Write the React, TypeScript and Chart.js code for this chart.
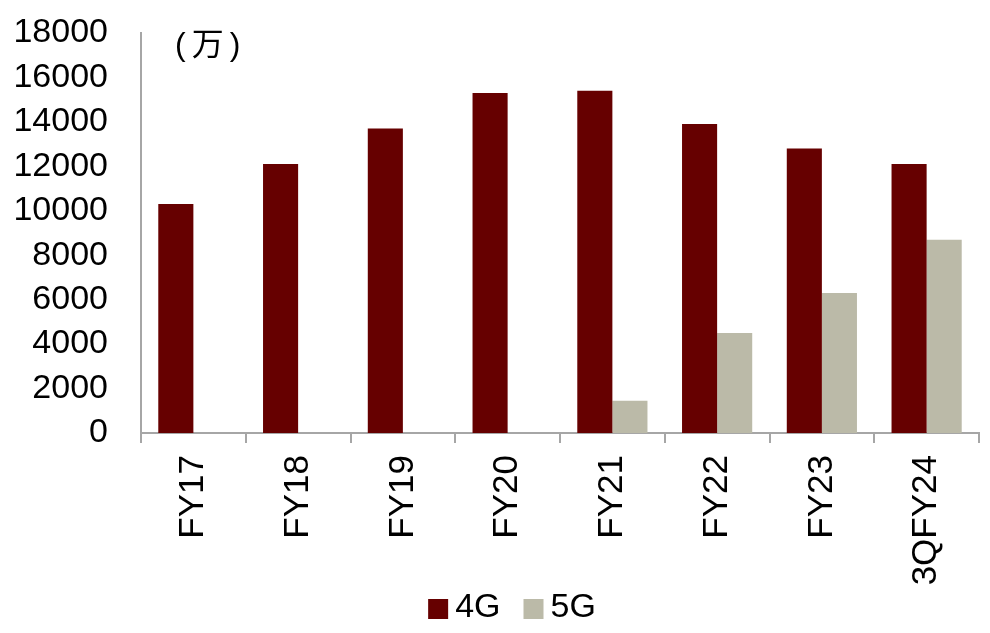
import React, { useEffect, useRef } from "react";
import { Chart, registerables } from "chart.js";

Chart.register(...registerables);

const categories = ["FY17", "FY18", "FY19", "FY20", "FY21", "FY22", "FY23", "3QFY24"];
const series4G = [10300, 12100, 13700, 15300, 15400, 13900, 12800, 12100];
const series5G = [null, null, null, null, 1450, 4500, 6300, 8700];
const seriesNames = ["4G", "5G"];
const unitLabel = "(万)";
const yMin = 0;
const yMax = 18000;
const yStep = 2000;

const COLOR_4G = "#660000";
const COLOR_5G = "#BBBAA8";
const AXIS = "#A6A6A6";
const FONT = '"Liberation Sans", Arial, sans-serif';

const extrasPlugin = {
  id: "extras",
  afterDraw(chart: any) {
    const ctx = chart.ctx;
    const area = chart.chartArea;
    ctx.save();
    ctx.fillStyle = "#000";
    ctx.font = `32px "Liberation Sans", "Noto Sans CJK SC", sans-serif`;
    ctx.textAlign = "left";
    ctx.textBaseline = "middle";
    try { (ctx as any).letterSpacing = "6px"; } catch (e) {}
    ctx.fillText(unitLabel, area.left + 34, 46);
    try { (ctx as any).letterSpacing = "0px"; } catch (e) {}

    ctx.font = `34px ${FONT}`;
    const box = 20;
    const gapText = 7;
    const gapItem = 23;
    const items = chart.data.datasets.map((d: any) => ({
      label: d.label,
      color: d.backgroundColor,
      w: box + gapText + ctx.measureText(d.label).width,
    }));
    const total = items.reduce((s: number, it: any) => s + it.w, 0) + gapItem * (items.length - 1);
    let x = 512 - total / 2;
    const cy = 609;
    items.forEach((it: any) => {
      ctx.fillStyle = it.color;
      ctx.fillRect(x, cy - box / 2, box, box);
      ctx.fillStyle = "#000";
      ctx.textAlign = "left";
      ctx.textBaseline = "middle";
      ctx.fillText(it.label, x + box + gapText, cy - 1);
      x += it.w + gapItem;
    });
    ctx.restore();
  },
};

export default function App() {
  const ref = useRef<HTMLCanvasElement | null>(null);
  useEffect(() => {
    if (!ref.current) return;
    const chart = new Chart(ref.current, {
      type: "bar",
      data: {
        labels: categories,
        datasets: [
          { label: seriesNames[0], data: series4G, backgroundColor: COLOR_4G, categoryPercentage: 0.67, barPercentage: 1 },
          { label: seriesNames[1], data: series5G as any, backgroundColor: COLOR_5G, categoryPercentage: 0.67, barPercentage: 1 },
        ],
      },
      options: {
        animation: false,
        responsive: true,
        maintainAspectRatio: false,
        layout: { padding: { top: 33, right: 11, left: 0, bottom: 0 } },
        plugins: { legend: { display: false }, tooltip: { enabled: false } },
        scales: {
          x: {
            grid: { display: true, drawOnChartArea: false, drawTicks: true, tickLength: 10, color: AXIS, lineWidth: 2, offset: true },
            border: { display: true, color: AXIS, width: 2 },
            ticks: {
              color: "#000",
              font: { family: FONT, size: 35 },
              minRotation: 90,
              maxRotation: 90,
              autoSkip: false,
              padding: 12,
            },
            afterFit: (scale: any) => {
              scale.height = 200;
            },
          },
          y: {
            min: yMin,
            max: yMax,
            grid: { display: false, drawTicks: false },
            border: { display: true, color: AXIS, width: 2 },
            ticks: {
              stepSize: yStep,
              autoSkip: false,
              color: "#000",
              font: { family: FONT, size: 34 },
              padding: 33,
              callback: (v: any) => String(v),
            },
            afterFit: (scale: any) => {
              scale.width = 141;
              scale.paddingTop = 0;
            },
          },
        },
      },
      plugins: [extrasPlugin],
    });
    return () => chart.destroy();
  }, []);
  return (
    <div style={{ position: "absolute", left: 0, top: 0, width: 990, height: 633, background: "#fff" }}>
      <canvas ref={ref} />
    </div>
  );
}
